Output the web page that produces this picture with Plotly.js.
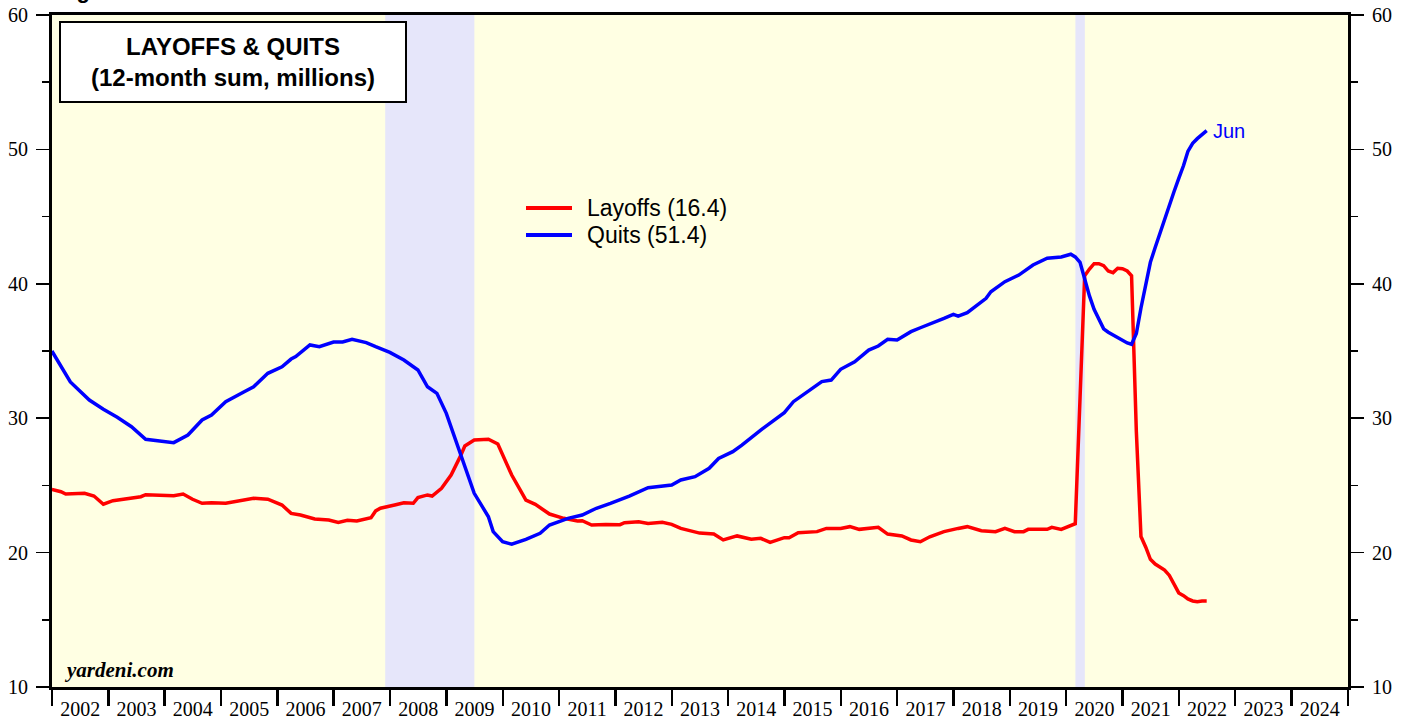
<!DOCTYPE html>
<html><head><meta charset="utf-8">
<script src="https://cdn.plot.ly/plotly-3.0.1.min.js"></script>
<style>html,body{margin:0;padding:0;background:#fff;overflow:hidden;} #chart{width:1408px;height:719px;}</style>
</head><body><div id="chart"></div>
<script>
// ---- Data (12-month sums, millions) ----
const layoffMonths = ['2001-12','2002-02','2002-03','2002-07','2002-09','2002-11','2003-01','2003-05','2003-07','2003-08','2003-12',
'2004-02','2004-04','2004-06','2004-08','2004-10','2005-01','2005-04','2005-07','2005-10','2006-01','2006-03','2006-05','2006-08','2006-11',
'2007-01','2007-03','2007-05','2007-07','2007-08','2007-09','2007-10','2008-01','2008-03','2008-05','2008-06','2008-08','2008-09','2008-11',
'2009-01','2009-03','2009-04','2009-06','2009-09','2009-11','2009-12','2010-02','2010-04','2010-05','2010-07','2010-10',
'2011-01','2011-04','2011-05','2011-07','2011-10','2012-01','2012-02','2012-05','2012-07','2012-10','2012-12',
'2013-02','2013-06','2013-09','2013-11','2014-02','2014-05','2014-07','2014-09','2014-12','2015-01','2015-03','2015-07','2015-09','2015-12',
'2016-02','2016-04','2016-08','2016-10','2017-01','2017-03','2017-05','2017-07','2017-10','2018-01','2018-03','2018-06','2018-09','2018-11',
'2019-01','2019-03','2019-04','2019-08','2019-09','2019-11','2020-01','2020-02','2020-03','2020-04','2020-05','2020-06','2020-07','2020-08',
'2020-09','2020-10','2020-11','2020-12','2021-01','2021-02','2021-03','2021-04','2021-05','2021-06','2021-07','2021-08','2021-09','2021-10',
'2021-11','2021-12','2022-01','2022-02','2022-03','2022-04','2022-05','2022-06'];
const layoffValues = [24.7,24.53,24.36,24.41,24.21,23.6,23.86,24.04,24.16,24.31,24.29,
24.23,24.36,23.97,23.67,23.71,23.67,23.84,24.04,23.97,23.54,22.92,22.8,22.5,22.43,
22.25,22.4,22.35,22.5,22.6,23.1,23.3,23.54,23.71,23.67,24.09,24.29,24.21,24.78,
25.77,27.14,27.93,28.38,28.43,28.08,27.26,25.77,24.53,23.91,23.59,22.87,
22.55,22.35,22.37,22.05,22.1,22.08,22.23,22.3,22.17,22.25,22.1,
21.8,21.45,21.38,20.94,21.24,20.99,21.06,20.76,21.11,21.11,21.48,21.56,21.8,21.8,
21.93,21.73,21.88,21.38,21.24,20.94,20.81,21.18,21.56,21.8,21.93,21.63,21.56,21.8,
21.56,21.56,21.73,21.73,21.88,21.73,22.05,22.15,31.5,40.6,41.1,41.5,41.5,41.35,
40.95,40.83,41.15,41.12,40.95,40.6,29.0,21.2,20.4,19.5,19.15,18.9,18.7,18.3,
17.6,17.0,16.8,16.55,16.4,16.35,16.4,16.4];

const quitMonths = ['2001-12','2002-04','2002-08','2002-11','2003-02','2003-05','2003-08','2003-11','2004-02','2004-05','2004-08','2004-10',
'2005-01','2005-05','2005-07','2005-10','2006-01','2006-03','2006-04','2006-07','2006-09','2006-12','2007-02','2007-04','2007-07','2007-09','2007-12',
'2008-03','2008-06','2008-08','2008-10','2008-12','2009-02','2009-04','2009-06','2009-09','2009-10','2009-12','2010-02','2010-05','2010-08','2010-10',
'2011-02','2011-05','2011-08','2011-11','2012-03','2012-07','2012-09','2012-12','2013-02','2013-05','2013-08','2013-10','2014-01','2014-03','2014-07',
'2014-10','2014-12','2015-02','2015-06','2015-08','2015-10','2015-12','2016-03','2016-06','2016-08','2016-10','2016-12','2017-03','2017-05','2017-08',
'2017-10','2017-12','2018-01','2018-03','2018-05','2018-07','2018-08','2018-11','2019-02','2019-05','2019-08','2019-11','2020-01','2020-02','2020-03',
'2020-04','2020-05','2020-06','2020-07','2020-08','2020-09','2020-10','2020-11','2020-12','2021-01','2021-02','2021-03','2021-04','2021-05','2021-06',
'2021-07','2021-08','2021-09','2021-10','2021-11','2021-12','2022-01','2022-02','2022-03','2022-04','2022-05','2022-06'];
const quitValues = [35.0,32.7,31.35,30.66,30.07,29.37,28.43,28.33,28.18,28.75,29.87,30.24,
31.23,31.97,32.34,33.34,33.83,34.4,34.58,35.45,35.32,35.67,35.67,35.87,35.62,35.32,34.9,
34.33,33.59,32.34,31.85,30.36,28.38,26.39,24.41,22.67,21.56,20.81,20.62,20.99,21.44,22.05,
22.55,22.8,23.3,23.67,24.21,24.83,24.9,25.03,25.4,25.65,26.27,27.0,27.51,28.0,29.12,
29.87,30.41,31.23,32.23,32.72,32.84,33.64,34.2,35.07,35.37,35.87,35.82,36.44,36.73,37.11,
37.43,37.73,37.6,37.85,38.42,38.92,39.41,40.16,40.65,41.4,41.9,42.0,42.2,42.0,41.6,
40.3,39.1,38.1,37.3,36.65,36.4,36.2,36.0,35.85,35.6,35.5,36.3,38.2,39.9,41.6,
42.7,43.8,44.8,45.8,46.85,47.85,48.8,49.85,50.45,50.8,51.1,51.4];

const seriesNames = ['Layoffs', 'Quits'];
const seriesColors = ['#ff0000', '#0000ff'];
const recessionStart = ['2007-12-01', '2020-03-01'];
const recessionEnd   = ['2009-07-01', '2020-05-01'];
const chartTitle = 'LAYOFFS & QUITS';
const chartSubtitle = '(12-month sum, millions)';
const sourceText = 'yardeni.com';
const figLabel = 'Figure 1.';

// ---- helpers ----
function monthEnd(s){ const p = s.split('-').map(Number); return new Date(Date.UTC(p[0], p[1], 0)).toISOString().slice(0,10); }
const monthNames = ['Jan','Feb','Mar','Apr','May','Jun','Jul','Aug','Sep','Oct','Nov','Dec'];
const lastQ = quitMonths[quitMonths.length-1];
const lastLabel = monthNames[Number(lastQ.split('-')[1]) - 1];

// pixel -> paper helpers (plot area: 52..1348 x, 15..687 y)
const PL = 52, PW = 1296, PT = 15, PH = 672;
const px = v => (v - PL) / PW;
const py = v => (PT + PH - v) / PH;

const legendLabels = [
  seriesNames[0] + ' (' + layoffValues[layoffValues.length-1].toFixed(1) + ')',
  seriesNames[1] + ' (' + quitValues[quitValues.length-1].toFixed(1) + ')'
];

const traces = [
  {x: layoffMonths.map(monthEnd), y: layoffValues, type:'scatter', mode:'lines', yaxis:'y',
   name: legendLabels[0], line:{color:seriesColors[0], width:3.5}},
  {x: quitMonths.map(monthEnd), y: quitValues, type:'scatter', mode:'lines', yaxis:'y2',
   name: legendLabels[1], line:{color:seriesColors[1], width:3.5}}
];

const tickFont = {family:'Liberation Serif, Times New Roman, serif', size:20, color:'#000'};
const yCommon = {range:[10,60], tick0:0, dtick:10, ticks:'outside', ticklen:13, tickwidth:1.5, tickcolor:'#000',
  minor:{tick0:0, dtick:5, ticks:'outside', ticklen:7, tickwidth:1.5, tickcolor:'#000'},
  showline:true, linewidth:3, linecolor:'#000', showgrid:false, zeroline:false, tickfont:tickFont,
  ticklabelstandoff:4, fixedrange:true};

const shapes = recessionStart.map((s,i)=>({type:'rect', xref:'x', yref:'paper', x0:s, x1:recessionEnd[i], y0:0, y1:1,
  fillcolor:'#e6e6fa', line:{width:0}, layer:'below'}));
// title box
shapes.push({type:'rect', xref:'paper', yref:'paper', x0:px(60), x1:px(406), y0:py(102), y1:py(22),
  fillcolor:'#ffffff', line:{color:'#000', width:2}, layer:'above'});
// legend line samples
const legendRows = [208, 235];
legendRows.forEach((r,i)=>shapes.push({type:'line', xref:'paper', yref:'paper', x0:px(526), x1:px(572), y0:py(r), y1:py(r),
  line:{color:seriesColors[i], width:4}, layer:'above'}));

const sansFont = 'Liberation Sans, Arial, sans-serif';
const annotations = [
  {xref:'paper', yref:'paper', x:px(233), y:py(62), xanchor:'center', yanchor:'middle',
   text:'<b>' + chartTitle.replace('&','&amp;') + '<br>' + chartSubtitle + '</b>', showarrow:false, align:'center',
   font:{family:sansFont, size:24, color:'#000'}},
  {xref:'paper', yref:'paper', x:px(62), y:py(684), xanchor:'left', yanchor:'bottom',
   text:'<b><i>' + sourceText + '</i></b>', showarrow:false,
   font:{family:'Liberation Serif, Times New Roman, serif', size:21, color:'#000'}},
  {xref:'x', yref:'y2', x: monthEnd(lastQ), y: quitValues[quitValues.length-1], xanchor:'left', yanchor:'middle',
   xshift:4, text:lastLabel, showarrow:false,
   font:{family:sansFont, size:20, color:'#0000ff'}},
  {xref:'paper', yref:'paper', x:px(55), y:py(5), xanchor:'left', yanchor:'bottom',
   text:'<b>' + figLabel + '</b>', showarrow:false,
   font:{family:sansFont, size:22, color:'#000'}}
];
legendRows.forEach((r,i)=>annotations.push({xref:'paper', yref:'paper', x:px(585), y:py(r), xanchor:'left', yanchor:'middle',
  text:legendLabels[i], showarrow:false, font:{family:sansFont, size:23, color:'#000'}}));

const layout = {
  width:1408, height:719,
  margin:{l:52, r:60, t:15, b:32, pad:0},
  paper_bgcolor:'#ffffff', plot_bgcolor:'#ffffe3',
  showlegend:false,
  xaxis:{type:'date', range:['2002-01-01','2025-01-01'], tick0:'2002-01-01', dtick:'M12', tickformat:'%Y',
    ticklabelmode:'period', ticks:'outside', ticklen:16, tickwidth:2.5, tickcolor:'#000',
    showline:true, linewidth:3, linecolor:'#000', mirror:true, showgrid:false, zeroline:false,
    tickfont:tickFont, ticklabelstandoff:-14, fixedrange:true},
  yaxis: Object.assign({}, yCommon, {side:'left'}),
  yaxis2: Object.assign({}, yCommon, {side:'right', overlaying:'y'}),
  shapes: shapes,
  annotations: annotations
};

Plotly.newPlot('chart', traces, layout, {displayModeBar:false, staticPlot:true});
</script>
</body></html>
